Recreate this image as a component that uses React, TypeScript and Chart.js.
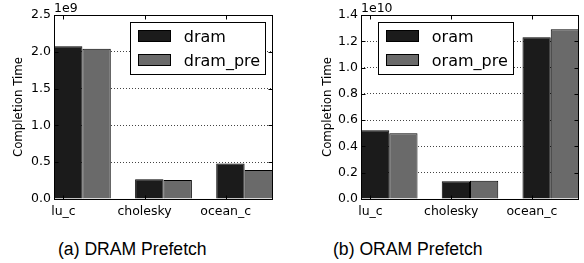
import React, { useEffect, useRef } from 'react';
import { Chart, registerables } from 'chart.js';

Chart.register(...registerables);

// ---------- data ----------
const categories = ['lu_c', 'cholesky', 'ocean_c'];

const dramSeriesNames = ['dram', 'dram_pre'];
const dramValues = [2.077e9, 0.267e9, 0.484e9];
const dramPreValues = [2.042e9, 0.257e9, 0.393e9];
const dramTickLabels = ['0.0', '0.5', '1.0', '1.5', '2.0', '2.5'];
const dramExponent = 1e9;
const dramOffsetLabel = '1e9';

const oramSeriesNames = ['oram', 'oram_pre'];
const oramValues = [5.23e9, 1.35e9, 12.31e9];
const oramPreValues = [5.0e9, 1.39e9, 12.91e9];
const oramTickLabels = ['0.0', '0.2', '0.4', '0.6', '0.8', '1.0', '1.2', '1.4'];
const oramExponent = 1e10;
const oramOffsetLabel = '1e10';

const captions = ['(a) DRAM Prefetch', '(b) ORAM Prefetch'];

// ---------- style ----------
const FONT = '"DejaVu Sans"';
const DARK = '#1b1b1b';
const GRAY = '#6a6a6a';
const BAR_W = 0.35; // bar width in axis units (matplotlib style)
const X_MAX = categories.length - 1 + 2 * BAR_W;

type PanelProps = {
  left: number;
  width: number;
  height: number;
  yAxisWidth: number;
  padRight: number;
  titlePad: number;
  names: string[];
  a: number[];
  b: number[];
  tickLabels: string[];
  exponent: number;
  offsetLabel: string;
  legendAnchor: 'left' | 'right';
  legendOffset: number;
};

function Panel(p: PanelProps) {
  const ref = useRef<HTMLCanvasElement | null>(null);

  useEffect(() => {
    const canvas = ref.current;
    if (!canvas) return;

    const decor = {
      id: 'mplDecor',
      afterDraw(chart: any) {
        const { ctx, chartArea: ar } = chart;
        const xs = chart.scales.x;
        const ys = chart.scales.y;
        const L = ar.left + 0.5;
        const R = ar.right - 0.5;
        const T = ar.top + 0.5;
        const B = ar.bottom + 0.5;
        ctx.save();
        ctx.setLineDash([]);
        ctx.strokeStyle = '#000';
        ctx.lineWidth = 1;
        // inward ticks
        ctx.beginPath();
        ys.ticks.forEach((t: any) => {
          const y = Math.round(ys.getPixelForValue(t.value)) + 0.5;
          ctx.moveTo(L, y);
          ctx.lineTo(L + 4, y);
          ctx.moveTo(R, y);
          ctx.lineTo(R - 4, y);
        });
        xs.ticks.forEach((t: any) => {
          const x = Math.round(xs.getPixelForValue(t.value)) + 0.5;
          ctx.moveTo(x, B);
          ctx.lineTo(x, B - 4);
          ctx.moveTo(x, T);
          ctx.lineTo(x, T + 4);
        });
        ctx.stroke();
        // frame
        ctx.strokeRect(L, T, R - L, B - T);
        // offset text
        ctx.fillStyle = '#000';
        ctx.font = `12.5px ${FONT}`;
        ctx.textAlign = 'left';
        ctx.textBaseline = 'alphabetic';
        ctx.fillText(p.offsetLabel, ar.left, ar.top - 3);
        // legend
        ctx.font = `16px ${FONT}`;
        const ds = chart.data.datasets;
        const maxW = Math.max(...ds.map((d: any) => ctx.measureText(d.label).width));
        const w = Math.round(7.7 + 33 + 12.8 + maxW + 5.5);
        const h = 52;
        const x0 = Math.round(
          p.legendAnchor === 'right' ? ar.right - p.legendOffset - w : ar.left + p.legendOffset
        );
        const y0 = Math.round(ar.top + 7);
        ctx.fillStyle = '#fff';
        ctx.fillRect(x0, y0, w, h);
        ctx.strokeStyle = '#000';
        ctx.strokeRect(x0 + 0.5, y0 + 0.5, w, h);
        ds.forEach((d: any, i: number) => {
          const sx = x0 + 8;
          const sy = Math.round(y0 + 7.5 + i * 24.5);
          ctx.fillStyle = d.backgroundColor;
          ctx.fillRect(sx, sy, 33, 12);
          ctx.strokeRect(sx + 0.5, sy + 0.5, 32, 11);
          ctx.fillStyle = '#000';
          ctx.fillText(d.label, sx + 33 + 12.8, sy + 12.3);
        });
        ctx.restore();
      },
    };

    const yMax = parseFloat(p.tickLabels[p.tickLabels.length - 1]) * p.exponent;

    const chart = new Chart(canvas, {
      type: 'bar',
      data: {
        datasets: [
          {
            label: p.names[0],
            data: categories.map((_, i) => ({ x: i + BAR_W, y: p.a[i] })),
            backgroundColor: DARK,
            borderColor: '#000',
            borderWidth: 1,
            categoryPercentage: 2 * BAR_W,
            barPercentage: 1,
          },
          {
            label: p.names[1],
            data: categories.map((_, i) => ({ x: i + BAR_W, y: p.b[i] })),
            backgroundColor: GRAY,
            borderColor: '#000',
            borderWidth: 1,
            categoryPercentage: 2 * BAR_W,
            barPercentage: 1,
          },
        ],
      } as any,
      options: {
        responsive: false,
        animation: false,
        devicePixelRatio: 1,
        layout: { padding: { left: 0, top: 15, right: p.padRight, bottom: 0 } },
        plugins: {
          legend: { display: false },
          tooltip: { enabled: false },
        },
        scales: {
          x: {
            type: 'linear',
            min: 0,
            max: X_MAX,
            offset: false,
            grid: { display: false, offset: false },
            border: { display: false },
            afterBuildTicks: (axis: any) => {
              axis.ticks = categories.map((_, i) => ({ value: i + BAR_W / 3 }));
            },
            afterFit: (axis: any) => {
              axis.height = 26;
            },
            ticks: {
              autoSkip: false,
              maxRotation: 0,
              minRotation: 0,
              padding: -3,
              color: '#000',
              font: { family: FONT, size: 12.5 },
              callback: (_v: any, i: number) => categories[i],
            },
          },
          y: {
            type: 'linear',
            min: 0,
            max: yMax,
            afterBuildTicks: (axis: any) => {
              axis.ticks = p.tickLabels.map((t) => ({ value: parseFloat(t) * p.exponent }));
            },
            afterFit: (axis: any) => {
              axis.width = p.yAxisWidth;
            },
            grid: {
              color: (c: any) => (c.tick && c.tick.value === 0 ? 'rgba(0,0,0,0)' : '#444'),
              lineWidth: 1,
              drawTicks: false,
            },
            border: { display: false, dash: [1, 2] },
            ticks: {
              padding: 3,
              color: '#000',
              font: { family: FONT, size: 12.5 },
              callback: (_v: any, i: number) => p.tickLabels[i],
            },
            title: {
              display: true,
              text: 'Completion Time',
              color: '#000',
              font: { family: FONT, size: 11.8 },
              padding: { top: p.titlePad, bottom: 0 },
            },
          },
        },
      } as any,
      plugins: [decor],
    });

    return () => chart.destroy();
  }, []);

  return (
    <canvas
      ref={ref}
      width={p.width}
      height={p.height}
      style={{ position: 'absolute', left: p.left, top: 0, width: p.width, height: p.height }}
    />
  );
}

const captionStyle: React.CSSProperties = {
  position: 'absolute',
  top: 241,
  fontFamily: '"Liberation Sans", Arial, sans-serif',
  fontSize: 17.6,
  lineHeight: 1,
  color: '#000',
  whiteSpace: 'nowrap',
};

export default function App() {
  return (
    <div
      style={{
        position: 'absolute',
        left: 0,
        top: 0,
        width: 584,
        height: 263,
        background: '#fff',
        overflow: 'hidden',
      }}
    >
      <Panel
        left={0}
        width={290}
        height={225}
        yAxisWidth={54}
        padRight={17}
        titlePad={11.5}
        names={dramSeriesNames}
        a={dramValues}
        b={dramPreValues}
        tickLabels={dramTickLabels}
        exponent={dramExponent}
        offsetLabel={dramOffsetLabel}
        legendAnchor="right"
        legendOffset={8}
      />
      <Panel
        left={290}
        width={294}
        height={225}
        yAxisWidth={71}
        padRight={5}
        titlePad={30.5}
        names={oramSeriesNames}
        a={oramValues}
        b={oramPreValues}
        tickLabels={oramTickLabels}
        exponent={oramExponent}
        offsetLabel={oramOffsetLabel}
        legendAnchor="left"
        legendOffset={17}
      />
      <div style={{ ...captionStyle, left: 58 }}>{captions[0]}</div>
      <div style={{ ...captionStyle, left: 333 }}>{captions[1]}</div>
    </div>
  );
}
